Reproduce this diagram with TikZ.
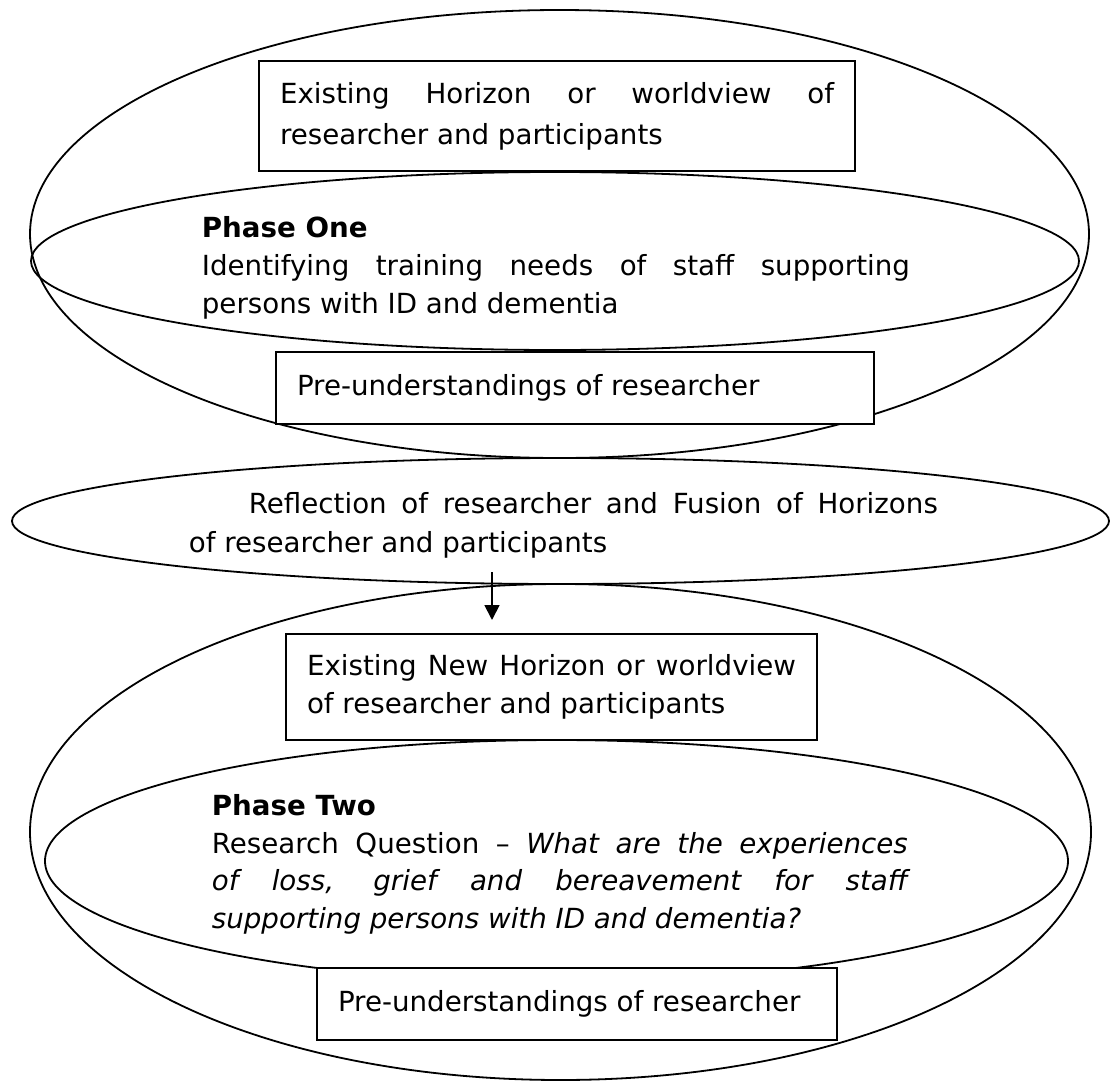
\documentclass[tikz,border=0pt]{standalone}
\usepackage{fontspec}
\setmainfont{DejaVu Sans}
\usetikzlibrary{shapes.geometric,arrows.meta}
\hyphenpenalty=10000
\exhyphenpenalty=10000
\begin{document}
\begin{tikzpicture}[x=1pt,y=-1pt,line width=1.8pt,
  ring/.style={draw,ellipse,inner sep=0pt},
  textbox/.style={draw,fill=white,rectangle,inner xsep=21pt,inner ysep=0pt,align=justify},
  txt/.style={inner sep=0pt,anchor=north west,align=justify},
  every node/.append style={font=\fontsize{27.7}{39}\selectfont}]
\useasboundingbox (0,0) rectangle (1112,1082);
% ellipses
\node[ring,minimum width=1059pt,minimum height=448pt] (e1) at (559.5,234) {};
\node[ring,minimum width=1048pt,minimum height=178pt] (p1) at (555,261) {};
\node[ring,minimum width=1097pt,minimum height=126pt] (rf) at (560.5,521) {};
\node[ring,minimum width=1061pt,minimum height=496pt] (e2) at (560.5,832) {};
\node[ring,minimum width=1023pt,minimum height=242pt] (p2) at (556.5,861) {};
% boxes
\node[textbox,text width=554pt,minimum height=110pt,font=\fontsize{27.7}{41}\selectfont] (b1) at (557,116)
  {\strut Existing Horizon or worldview of\linebreak researcher and participants\strut};
\node[textbox,text width=556pt,minimum height=72pt] (b2) at (575,388)
  {\strut Pre-understandings of researcher\strut};
\node[textbox,text width=489pt,minimum height=106pt,font=\fontsize{27.7}{38}\selectfont] (b3) at (551.5,687)
  {\strut Existing New Horizon or worldview\linebreak of researcher and participants\strut};
\node[textbox,text width=478pt,minimum height=72pt] (b4) at (577,1004)
  {\strut Pre-understandings of researcher\strut};
% texts
\node[txt,text width=708pt,font=\fontsize{27.7}{38}\selectfont] (t1) at (201,210.4)
  {\strut\textbf{Phase One}\\ Identifying training needs of staff supporting\linebreak persons with ID and dementia};
\node[txt,text width=749pt] (tr) at (188,485.7)
  {\strut\hspace*{60pt}Reflection of researcher and Fusion of Horizons\linebreak of researcher and participants};
\node[txt,text width=696pt,font=\fontsize{27.7}{37.5}\selectfont] (t2) at (211,788.75)
  {\strut\textbf{Phase Two}\\ Research Question -- \textit{What are the experiences\linebreak of loss, grief and bereavement for staff\linebreak supporting persons with ID and dementia?}};
% arrow
\coordinate (as) at (492,572);
\coordinate (ae) at (492,620);
\draw[-{Triangle[length=15pt,width=15pt]}] (as) -- (ae);
\end{tikzpicture}
\end{document}
